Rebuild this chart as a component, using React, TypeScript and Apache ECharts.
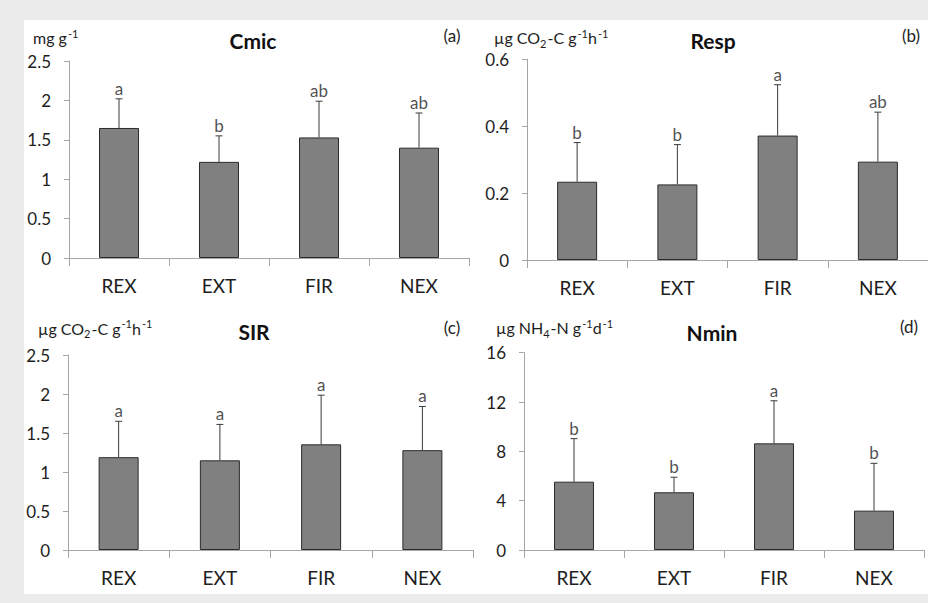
import React, { useEffect, useRef } from "react";
import * as echarts from "echarts";

const categories = ["REX", "EXT", "FIR", "NEX"];

const cmicMean = [1.65, 1.22, 1.53, 1.4];
const cmicSd = [0.37, 0.33, 0.46, 0.44];
const cmicLetters = ["a", "b", "ab", "ab"];

const respMean = [0.234, 0.226, 0.372, 0.294];
const respSd = [0.117, 0.119, 0.152, 0.148];
const respLetters = ["b", "b", "a", "ab"];

const sirMean = [1.19, 1.15, 1.355, 1.28];
const sirSd = [0.46, 0.46, 0.63, 0.56];
const sirLetters = ["a", "a", "a", "a"];

const nminMean = [5.54, 4.68, 8.65, 3.19];
const nminSd = [3.49, 1.22, 3.45, 3.84];
const nminLetters = ["b", "b", "a", "b"];

const panelTitles = ["Cmic", "Resp", "SIR", "Nmin"];
const panelTags = ["(a)", "(b)", "(c)", "(d)"];
const yMax = [2.5, 0.6, 2.5, 16];
const yStep = [0.5, 0.2, 0.5, 4];

const FONT = "Lato, 'Open Sans', sans-serif";
const TXT = "#1e1e1e";
const AXIS = "#a6a6a6";

const panels = [
  { mean: cmicMean, sd: cmicSd, letters: cmicLetters },
  { mean: respMean, sd: respSd, letters: respLetters },
  { mean: sirMean, sd: sirSd, letters: sirLetters },
  { mean: nminMean, sd: nminSd, letters: nminLetters },
];

const grids = [
  { left: 69, top: 61, width: 400, height: 197 },
  { left: 527, top: 59.3, width: 404, height: 200.7 },
  { left: 68, top: 355, width: 405, height: 195 },
  { left: 524, top: 352.7, width: 400, height: 197.3 },
];

const titlePos = [
  [253, 40.5],
  [713, 40],
  [254, 331.5],
  [712, 332],
];
const tagPos = [
  [452, 35.5],
  [911, 35.5],
  [452, 327.5],
  [909, 326],
];
const unitPos = [
  [33, 37.5],
  [494, 37.5],
  [38, 328],
  [496, 327.5],
];
const unitTexts = [
  "{t|mg g}{s|-1}",
  "{t|µg CO}{d|2}{t|-C g}{s|-1}{t|h}{s|-1}",
  "{t|µg CO}{d|2}{t|-C g}{s|-1}{t|h}{s|-1}",
  "{t|µg NH}{d|4}{t|-N g}{s|-1}{t|d}{s|-1}",
];

export default function App() {
  const ref = useRef<HTMLDivElement>(null);

  useEffect(() => {
    if (!ref.current) return;
    const chart = echarts.init(ref.current, undefined, { renderer: "svg" });

    const xAxis: any[] = [];
    const yAxis: any[] = [];
    const series: any[] = [];
    const graphic: any[] = [];

    panels.forEach((p, gi) => {
      xAxis.push({
        type: "category",
        gridIndex: gi,
        data: categories,
        axisLine: { lineStyle: { color: AXIS, width: 1 } },
        axisTick: { show: true, length: 8, lineStyle: { color: AXIS } },
        axisLabel: { color: TXT, fontFamily: FONT, fontSize: 19, margin: 18 },
        splitLine: { show: false },
      });
      yAxis.push({
        type: "value",
        gridIndex: gi,
        min: 0,
        max: yMax[gi],
        interval: yStep[gi],
        axisLine: { show: true, lineStyle: { color: AXIS, width: 1 } },
        axisTick: { show: true, length: 5, lineStyle: { color: AXIS } },
        axisLabel: { color: TXT, fontFamily: FONT, fontSize: 17, margin: 18 },
        splitLine: { show: false },
      });
      series.push({
        type: "bar",
        xAxisIndex: gi,
        yAxisIndex: gi,
        data: p.mean,
        barWidth: 40,
        itemStyle: { color: "#808080", borderColor: "#2b2b2b", borderWidth: 1 },
        z: 2,
      });
      series.push({
        type: "custom",
        xAxisIndex: gi,
        yAxisIndex: gi,
        z: 3,
        data: p.mean.map((m, i) => [i, m, m + p.sd[i]]),
        renderItem: (params: any, api: any) => {
          const base = api.coord([api.value(0), api.value(1)]);
          const top = api.coord([api.value(0), api.value(2)]);
          const st = { stroke: "#3a3a3a", lineWidth: 1 };
          return {
            type: "group",
            children: [
              { type: "line", shape: { x1: base[0], y1: base[1], x2: top[0], y2: top[1] }, style: st },
              { type: "line", shape: { x1: top[0] - 3.5, y1: top[1], x2: top[0] + 3.5, y2: top[1] }, style: st },
            ],
          };
        },
      });
      series.push({
        type: "scatter",
        xAxisIndex: gi,
        yAxisIndex: gi,
        symbolSize: 0,
        z: 4,
        data: p.mean.map((m, i) => ({ value: [i, m + p.sd[i]], name: p.letters[i] })),
        label: {
          show: true,
          position: "top",
          distance: 2,
          formatter: (d: any) => d.name,
          color: TXT,
          fontFamily: FONT,
          fontSize: 17,
        },
      });

      graphic.push({
        type: "text",
        x: titlePos[gi][0],
        y: titlePos[gi][1],
        style: {
          text: panelTitles[gi],
          fill: "#111",
          font: `bold 21px ${FONT}`,
          textAlign: "center",
          textVerticalAlign: "middle",
        },
      });
      graphic.push({
        type: "text",
        x: tagPos[gi][0],
        y: tagPos[gi][1],
        style: {
          text: panelTags[gi],
          fill: TXT,
          font: `17px ${FONT}`,
          textAlign: "center",
          textVerticalAlign: "middle",
        },
      });
      graphic.push({
        type: "text",
        x: unitPos[gi][0],
        y: unitPos[gi][1],
        style: {
          text: unitTexts[gi],
          textAlign: "left",
          textVerticalAlign: "middle",
          rich: {
            t: { fontSize: 16, fontFamily: FONT, fill: TXT, color: TXT, lineHeight: 22, verticalAlign: "middle" },
            s: { fontSize: 11, fontFamily: FONT, fill: TXT, color: TXT, lineHeight: 11, verticalAlign: "top", padding: [1, 0, 0, 1] },
            d: { fontSize: 11, fontFamily: FONT, fill: TXT, color: TXT, lineHeight: 11, verticalAlign: "bottom", padding: [0, 1, 0, 0] },
          },
        },
      });
    });

    chart.setOption({
      animation: false,
      grid: grids.map((g) => ({ ...g, containLabel: false })),
      xAxis,
      yAxis,
      series,
      graphic,
    });

    return () => chart.dispose();
  }, []);

  return (
    <div style={{ position: "fixed", left: 0, top: 0, width: 928, height: 603, background: "#ececec", overflow: "hidden" }}>
      <div style={{ position: "absolute", left: 24, top: 20, width: 904, height: 574, background: "#ffffff" }} />
      <div ref={ref} style={{ position: "absolute", left: 0, top: 0, width: 928, height: 603 }} />
    </div>
  );
}
